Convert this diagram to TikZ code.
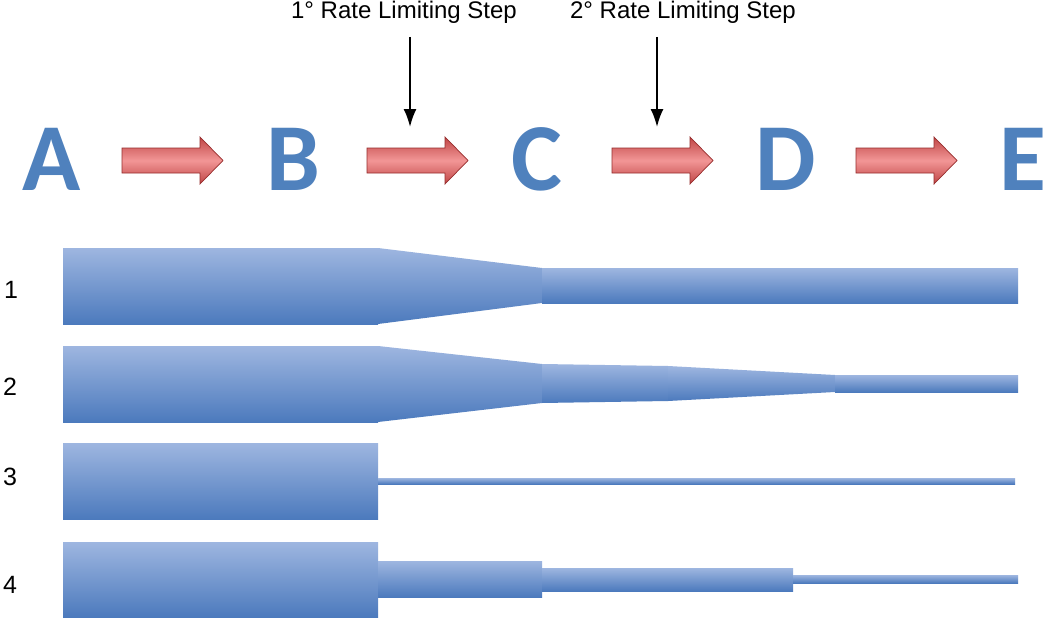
\documentclass[tikz,border=0pt]{standalone}
\usepackage{fontspec}
\setmainfont{Liberation Sans}
\newfontfamily\letterfont{Carlito}
\usetikzlibrary{arrows.meta}
\definecolor{bandtop}{RGB}{158,182,224}
\definecolor{bandbot}{RGB}{76,122,189}
\definecolor{lettblue}{RGB}{79,129,189}
\definecolor{arrdark}{RGB}{192,70,70}
\definecolor{arrlight}{RGB}{242,150,150}
\definecolor{arrline}{RGB}{150,45,45}
\tikzset{
  band/.style={top color=bandtop, bottom color=bandbot, draw=none},
  bigletter/.style={font=\letterfont\bfseries\fontsize{96}{96}\selectfont, text=lettblue, anchor=base, inner sep=0pt},
  ratelabel/.style={font=\fontsize{24}{24}\selectfont, anchor=base, inner sep=0pt},
  numlabel/.style={font=\fontsize{25}{25}\selectfont, anchor=base, inner sep=0pt},
  redarrow/.style={top color=arrdark, bottom color=arrdark, middle color=arrlight, draw=arrline, line width=0.7pt},
  limitarrow/.style={-{Latex[length=18pt,width=13pt]}, line width=2pt},
}
\begin{document}
\begin{tikzpicture}[x=1pt,y=-1pt]
\useasboundingbox[fill=white] (0,0) rectangle (1050,618);
% letters
\foreach \n/\x in {A/52,B/293,C/537,D/786,E/1023}{
  \node[bigletter] (\n) at (\x,190) {\n};
}
% red reaction arrows
\foreach \x in {122,367,612,856}{
  \path[redarrow] (\x,148) -- (\x+78,148) -- (\x+78,137) -- (\x+101,160.5)
     -- (\x+78,184) -- (\x+78,173) -- (\x,173) -- cycle;
}
% rate limiting labels and arrows
\node[ratelabel] (l1) at (404,19) {1° Rate Limiting Step};
\node[ratelabel] (l2) at (683,19) {2° Rate Limiting Step};
\coordinate (s1) at (410,37);
\coordinate (t1) at (410,127);
\coordinate (s2) at (657,37);
\coordinate (t2) at (657,127);
\draw[limitarrow] (s1) -- (t1);
\draw[limitarrow] (s2) -- (t2);
% row labels
\node[numlabel] (n1) at (11,298) {1};
\node[numlabel] (n2) at (10,395) {2};
\node[numlabel] (n3) at (10,485) {3};
\node[numlabel] (n4) at (10,593) {4};
% band 1
\path[band] (63,248) rectangle (378,324);
\path[band] (378,248) -- (542,268) -- (542,303) -- (378,324) -- cycle;
\path[band] (542,268) rectangle (1018,303);
% band 2
\path[band] (63,346) rectangle (378,422);
\path[band] (378,346) -- (542,364) -- (542,403) -- (378,422) -- cycle;
\path[band] (542,364) -- (668,366) -- (668,401) -- (542,403) -- cycle;
\path[band] (668,366) -- (835,375) -- (835,392) -- (668,401) -- cycle;
\path[band] (835,375) rectangle (1018,392);
% band 3
\path[band] (63,443) rectangle (378,519);
\path[band] (378,478) rectangle (1015,484);
% band 4
\path[band] (63,542) rectangle (378,617);
\path[band] (378,561) rectangle (542,597);
\path[band] (542,568) rectangle (793,591);
\path[band] (793,575) rectangle (1018,583);
\end{tikzpicture}
\end{document}
